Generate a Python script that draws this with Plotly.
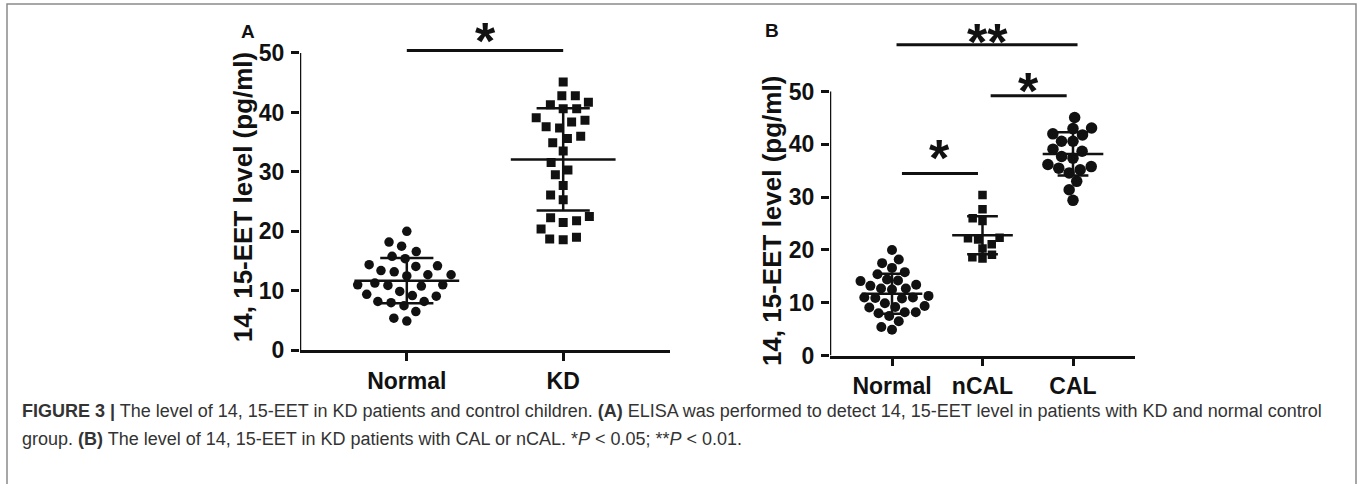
import math
import plotly.graph_objects as go

# ---------------- data ----------------
a_categories = ["Normal", "KD"]
a_normal = [20.0, 18.2, 17.5, 16.6, 15.4, 15.8, 14.2, 14.1, 14.4, 13.4, 13.2, 12.5, 12.7, 12.7,
            11.0, 10.9, 10.8, 11.3, 11.0, 9.9, 9.2, 9.1, 9.4, 8.2, 8.0, 7.5, 8.2, 6.5, 5.4, 4.9]
a_kd = [45.1, 42.8, 41.7, 42.8, 40.6, 41.3, 40.6, 38.4, 38.7, 37.4, 39.1, 37.6, 35.6, 36.0, 34.9,
        33.5, 31.6, 30.3, 29.5, 27.7, 25.3, 26.1, 22.5, 21.8, 21.5, 20.4, 22.3, 19.0, 18.6, 18.7]
a_mean = [11.7, 32.1]
a_sd = [3.8, 8.6]

b_categories = ["Normal", "nCAL", "CAL"]
b_normal = a_normal
b_ncal = [30.4, 27.7, 26.0, 25.5, 22.3, 22.0, 21.1, 22.2, 20.3, 19.1, 18.4, 18.6]
b_cal = [45.1, 43.1, 43.0, 42.0, 41.8, 40.6, 40.6, 39.1, 38.7, 37.7, 37.4, 36.2, 35.5, 35.2,
         35.8, 34.6, 33.0, 31.4, 29.4]
b_mean = [11.7, 22.8, 38.2]
b_sd = [3.8, 3.6, 4.1]

y_ticks = [0, 10, 20, 30, 40, 50]
y_title = "14, 15-EET level (pg/ml)"

# significance brackets: (from category, to category, bracket level, label level, label)
a_sig = [(1.0, 2.0, 50.4, 53.5, "*")]
b_sig = [(1.05, 3.05, 58.9, 61.1, "**"),
         (2.09, 2.93, 49.2, 51.9, "*"),
         (1.11, 1.95, 34.5, 39.2, "*")]

caption_1 = ("<b>FIGURE 3 |</b> The level of 14, 15-EET in KD patients and control children. "
             "<b>(A)</b> ELISA was performed to detect 14, 15-EET level in patients with KD and normal control")
caption_2 = ("group. <b>(B)</b> The level of 14, 15-EET in KD patients with CAL or nCAL. "
             "*<i>P</i> &lt; 0.05; **<i>P</i> &lt; 0.01.")

# ---------------- layout geometry (pixels) ----------------
W = 1365
VS = 497 / 486          # vertical compensation
H = round(486 * VS)
INK = "#111111"
FONT = "Arial, Liberation Sans, sans-serif"


def vy(px):
    return px * VS


A_X0, A_X1 = 300, 670
A_XR = [0.317, 2.683]
A_Y0PX, A_PPU, A_YMAX = vy(351.7), vy(5.97), 56
B_X0, B_X1 = 830, 1135
B_XR = [0.315, 3.685]
B_Y0PX, B_PPU, B_YMAX = vy(357.0), vy(5.3), 66


def swarm(vals, ppu_y, ppx_cat, d):
    """Greedy beeswarm: horizontal offsets (category units) so markers do not overlap."""
    n = len(vals)
    xs = [0.0] * n
    placed = []
    order = sorted(range(n), key=lambda i: vals[i])
    for k, i in enumerate(order):
        y = vals[i] * ppu_y
        cands = [0.0]
        for px, py in placed:
            dy = abs(y - py)
            if dy < d:
                dx = math.sqrt(d * d - dy * dy)
                cands += [px + dx, px - dx]
        sgn = 1 if k % 2 == 0 else -1
        cands.sort(key=lambda c: (round(abs(c), 3), -sgn * c))
        for c in cands:
            if all((c - px) ** 2 + (y - py) ** 2 >= d * d - 1e-6 for px, py in placed):
                xs[i] = c
                placed.append((c, y))
                break
    return [x / ppx_cat for x in xs]


fig = go.Figure()


def add_group(vals, center, xa, ya, ppu, ppx, symbol, size, gap):
    offs = swarm(vals, ppu, ppx, size * gap)
    fig.add_trace(go.Scatter(
        x=[center + o for o in offs], y=vals, mode="markers", xaxis=xa, yaxis=ya,
        marker=dict(symbol=symbol, size=size, color=INK, line=dict(width=0)),
        showlegend=False, hoverinfo="y"))


def add_summary(means, sds, xa, ya, ppx):
    fig.add_trace(go.Scatter(
        x=list(range(1, len(means) + 1)), y=means, mode="markers", xaxis=xa, yaxis=ya,
        marker=dict(symbol="line-ew", size=0.67 * ppx / 1.4, color=INK,
                    line=dict(width=2.5, color=INK)),
        error_y=dict(type="data", array=sds, visible=True, color=INK, thickness=2.5, width=0.17 * ppx),
        showlegend=False, hoverinfo="skip"))


def add_sig(sigs, xa, ya):
    for x0, x1, yb, yt, lab in sigs:
        fig.add_trace(go.Scatter(x=[x0, x1], y=[yb, yb], mode="lines", xaxis=xa, yaxis=ya,
                                 line=dict(color=INK, width=3), showlegend=False, hoverinfo="skip"))
        fig.add_annotation(x=(x0 + x1) / 2, y=yt, xref=xa, yref=ya, text=lab, showarrow=False,
                           yanchor="middle", yshift=-9,
                           font=dict(family=FONT, size=52, color=INK, weight="bold"))


A_PPX = (A_X1 - A_X0) / (A_XR[1] - A_XR[0])
B_PPX = (B_X1 - B_X0) / (B_XR[1] - B_XR[0])

add_group(a_normal, 1, "x", "y", A_PPU, A_PPX, "circle", 9.5, 1.4)
add_group(a_kd, 2, "x", "y", A_PPU, A_PPX, "square", 9, 1.5)
add_summary(a_mean, a_sd, "x", "y", A_PPX)
add_sig(a_sig, "x", "y")

add_group(b_normal, 1, "x2", "y2", B_PPU, B_PPX, "circle", 10, 1.1)
add_group(b_ncal, 2, "x2", "y2", B_PPU, B_PPX, "square", 8.5, 1.2)
add_group(b_cal, 3, "x2", "y2", B_PPU, B_PPX, "circle", 11.5, 1.0)
add_summary(b_mean, b_sd, "x2", "y2", B_PPX)
add_sig(b_sig, "x2", "y2")

tickfont = dict(family=FONT, size=23, color=INK, weight="bold")
common_x = dict(showline=True, linewidth=2.5, linecolor=INK, ticks="outside", ticklen=8,
                tickwidth=2.5, tickcolor=INK, showgrid=False, zeroline=False, tickfont=tickfont,
                fixedrange=True)
common_y = dict(showline=False, ticks="outside", ticklen=8, tickwidth=2.5, tickcolor=INK,
                showgrid=False, zeroline=False, tickfont=tickfont, tickvals=y_ticks,
                fixedrange=True, ticklabelstandoff=2)

fig.update_layout(
    width=W, height=H, margin=dict(l=0, r=0, t=0, b=0),
    paper_bgcolor="white", plot_bgcolor="rgba(0,0,0,0)",
    xaxis=dict(domain=[A_X0 / W, A_X1 / W], range=A_XR, tickvals=[1, 2],
               ticktext=a_categories, anchor="y", **common_x),
    yaxis=dict(domain=[1 - A_Y0PX / H, 1 - (A_Y0PX - A_YMAX * A_PPU) / H],
               range=[0, A_YMAX], anchor="x", **common_y),
    xaxis2=dict(domain=[B_X0 / W, B_X1 / W], range=B_XR, tickvals=[1, 2, 3],
                ticktext=b_categories, anchor="y2", **common_x),
    yaxis2=dict(domain=[1 - B_Y0PX / H, 1 - (B_Y0PX - B_YMAX * B_PPU) / H],
                range=[0, B_YMAX], anchor="x2", **common_y),
)

# y-axis lines that stop at the top tick
fig.add_shape(type="line", xref="x", yref="y", x0=A_XR[0], x1=A_XR[0], y0=0, y1=y_ticks[-1],
              line=dict(color=INK, width=2.5))
fig.add_shape(type="line", xref="x2", yref="y2", x0=B_XR[0], x1=B_XR[0], y0=0, y1=y_ticks[-1],
              line=dict(color=INK, width=2.5))

# y-axis titles
for xpx, ypx in [(243, 198), (772, 222)]:
    fig.add_annotation(x=xpx / W, y=1 - vy(ypx) / H, xref="paper", yref="paper", text=y_title,
                       textangle=-90, showarrow=False, xanchor="center", yanchor="middle",
                       font=dict(family=FONT, size=26, color=INK, weight="bold"))

# panel letters
for lab, xpx, ypx in [("A", 248, 32), ("B", 772, 31)]:
    fig.add_annotation(x=xpx / W, y=1 - vy(ypx) / H, xref="paper", yref="paper", text=lab,
                       showarrow=False, xanchor="center", yanchor="middle",
                       font=dict(family=FONT, size=19, color=INK, weight="bold"))

# caption
for txt, ypx in [(caption_1, 413), (caption_2, 441)]:
    fig.add_annotation(x=20 / W, y=1 - vy(ypx) / H, xref="paper", yref="paper", text=txt,
                       showarrow=False, xanchor="left", yanchor="middle", align="left",
                       font=dict(family=FONT, size=18, color="#333333"))

# frame (open at the bottom)
fig.add_shape(type="path", xref="paper", yref="paper",
              path=f"M {7 / W},0 L {7 / W},{1 - vy(4) / H} L {1356 / W},{1 - vy(4) / H} L {1356 / W},0",
              line=dict(color="#8a8a8a", width=1.5))

page_fix = ("document.documentElement.style.margin='0';document.documentElement.style.padding='0';"
            "document.documentElement.style.overflow='hidden';"
            "document.body.style.margin='0';document.body.style.padding='0';"
            "document.body.style.overflow='hidden';")

fig.write_html("out.html", post_script=page_fix, config={"displayModeBar": False})
